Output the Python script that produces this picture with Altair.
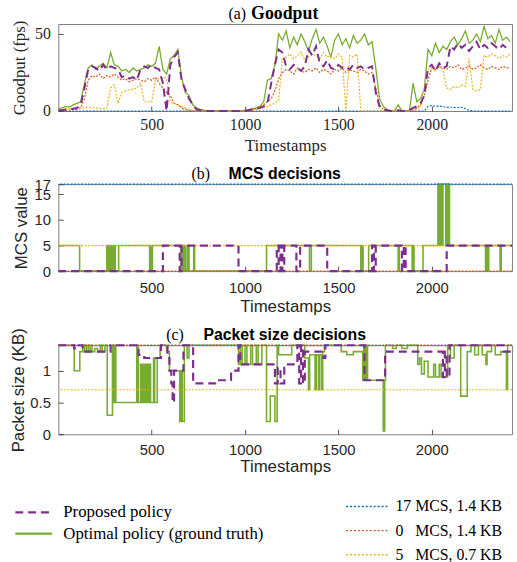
import altair as alt
import pandas as pd

SERIF = "Liberation Serif"
SANS = "Liberation Sans"
BLUE, RED, YEL, PUR, GRN = "#0072BD", "#D95319", "#EDB120", "#7E2F8E", "#77AC30"
AX = "#262626"

POL = ["Proposed policy", "Optimal policy (ground truth)"]
BASE = ["17 MCS, 1.4 KB", "0\u2007 MCS, 1.4 KB", "5\u2007 MCS, 0.7 KB"]

# ---- (a) Goodput, sampled every 20 timestamps ----
T = list(range(0, 2421, 20))
good_opt = [1.5, 2, 3, 2.5, 4, 5, 6,
            18,
            28, 30, 27, 29, 31, 28, 38, 30, 29,
            26, 27, 25, 28, 26, 27, 28,
            30, 29, 31,
            42,
            27, 24,
            34, 36, 40,
            22, 12, 10, 4, 2, 1, 0.5,
            0, 0, 0, 0, 0, 0, 0, 0, 0, 0,
            0.5, 1, 1.5, 2, 3, 6, 20, 21, 30, 50,
            46, 52, 41, 48, 43, 50, 45, 39, 47, 53, 44, 48, 42, 35, 46, 50, 43, 47, 41, 49, 44, 46, 50, 43, 45,
            28, 8, 3, 1,
            0, 0, 4, 0, 0, 0,
            18, 6, 8, 14, 40,
            36, 44, 38, 42, 40,
            45, 48, 43, 47, 52, 44, 46, 50, 45, 55, 47, 49, 44, 53, 46, 48, 45]
good_prop = [0.5, 0.5, 1, 1, 1.5, 2, 4,
             15,
             27, 29, 28, 26, 30, 27, 29, 28, 27,
             22, 23, 21, 22, 20, 27, 29,
             28, 30, 28,
             27,
             18, 0,
             30, 35, 38,
             20, 14, 8, 4, 1, 0.5, 0,
             0, 0, 0, 0, 0, 0, 0, 0, 0, 0,
             0, 0.5, 1, 1.5, 2, 3, 5, 18, 30, 40,
             38, 29, 27, 30, 28, 26, 29, 40, 36, 42, 31, 29, 33, 28, 27, 30, 28, 29, 27, 30, 28, 29, 27, 28, 29,
             12, 3, 1, 0.5,
             0, 0, 0.5, 0, 0, 0.5,
             2, 3, 5, 10, 28,
             30, 26, 31, 28, 29,
             42, 40, 44, 41, 43, 39, 42, 45, 40, 43, 41, 44, 42, 40, 43, 41, 42]
good_mcs0 = [0, 0, 0.5, 0.5, 1, 1, 2,
             8,
             20, 23, 22, 24, 21, 23, 22, 24, 22,
             20, 21, 19, 20, 21, 20, 19,
             21, 20, 22,
             18,
             15, 12,
             10, 5, 4,
             2, 1, 0.5, 0, 0, 0, 0,
             0, 0, 0, 0, 0, 0, 0, 0, 0, 0,
             0, 0.5, 1, 1.5, 2.5, 4, 6, 8, 13, 21,
             25, 27, 26, 24, 28, 26, 25, 27, 26, 28, 25, 27, 26, 24, 27, 26, 28, 25, 27, 26, 25, 27, 26, 24, 25,
             15, 4, 1, 0,
             0, 0, 0, 0, 0, 0,
             0.5, 2, 4, 10, 20,
             28, 27, 29, 28, 27, 29, 28, 30, 27, 28, 29, 27, 28, 30, 28, 27, 29, 28, 27, 29, 28, 28]
good_mcs5 = [0.5, 1, 1.5, 1.5, 1.5, 2, 2,
             2, 2.5, 2, 2, 1.5, 1.5, 2,
             15, 17, 5,
             12, 13, 14, 14, 15, 18, 6,
             6, 6, 20,
             21, 22, 21,
             6, 5, 4, 3, 2, 1, 0.5, 0, 0, 0,
             0, 0, 0, 0, 0, 0, 0, 0, 0, 0,
             0, 0.5, 0.5, 1, 1.5, 2, 3, 4, 5, 7,
             34, 35, 37, 34, 36, 38, 33, 35, 37, 36, 34, 38, 35, 36, 34, 37, 35,
             0,
             36, 35, 37,
             0, 0, 0, 0, 0, 0, 0, 0,
             0, 0, 0, 0, 0, 0,
             0.5, 1, 3, 15, 27,
             28, 26, 29, 27,
             15,
             14, 16, 15, 17, 16, 34,
             14, 13, 14,
             36, 35, 37, 36, 34, 36, 35, 37]
good_mcs17 = [0] * 99 + [3, 3.5, 3, 3.2, 2.8, 2.5, 2.6, 2.3, 2.2, 2.4, 1.5, 0.3] + [0] * 11

for arr in (good_opt, good_prop, good_mcs0, good_mcs5, good_mcs17):
    assert len(arr) == len(T), len(arr)

# ---- (b) MCS decisions (change points) ----
mcs_opt_t = [0, 114, 260, 266, 272, 280, 286, 292, 298, 305, 323, 489, 494, 499, 504,
             657, 662, 668, 675, 682, 692, 700, 725, 730, 1115, 1345, 1355,
             1620, 1626, 1632, 1662, 1820, 1826, 1895, 1900, 1905, 1953,
             2033, 2040, 2047, 2053, 2060, 2075, 2080, 2085, 2090, 2095,
             2288, 2293, 2298, 2305, 2366, 2372, 2430]
mcs_opt_v = [5, 0, 5, 0, 5, 0, 5, 0, 5, 0, 5, 0, 5, 0, 5,
             0, 5, 0, 5, 0, 5, 0, 5, 0, 5, 0, 5,
             0, 5, 0, 5, 0, 5, 0, 5, 0, 5,
             17, 5, 17, 5, 17, 5, 17, 5, 17, 5,
             0, 5, 0, 5, 0, 5, 5]
mcs_prop_t = [0, 560, 650, 660, 965, 1170, 1180, 1190, 1200, 1210, 1275, 1295, 1440,
              1680, 1690, 1700, 1840, 1850, 1860, 2080, 2430]
mcs_prop_v = [0, 5, 0, 5, 0, 5, 0, 5, 0, 5, 0, 5, 0,
              5, 0, 5, 0, 5, 0, 5, 5]

# ---- (c) Packet size decisions (change points, KB) ----
pk_opt_t = [0, 85, 115, 130, 140, 150, 160, 170, 180, 195, 210, 225, 235, 250, 262, 290, 296, 302, 308,
            420, 428, 440, 446, 452, 458, 464, 470, 476, 482, 488, 494, 510, 516, 530, 545, 580, 595,
            650, 658, 664, 675, 690, 700, 965, 975, 985, 1000, 1010, 1030, 1040, 1060, 1070, 1090,
            1115, 1135, 1160, 1172, 1180, 1250, 1320, 1340, 1346, 1375, 1381, 1393, 1399, 1410, 1416,
            1425, 1515, 1545, 1580, 1630, 1636, 1642, 1650, 1656, 1740, 1748, 1752, 1790, 1810, 1840,
            1870, 1925, 1935, 1945, 1960, 1980, 2010, 2020, 2040, 2050, 2085, 2100, 2120, 2155, 2190,
            2210, 2230, 2250, 2270, 2290, 2296, 2320, 2340, 2370, 2400, 2406, 2430]
pk_opt_v = [1.4, 1.0, 1.3, 1.4, 1.3, 1.4, 1.3, 1.4, 1.3, 1.35, 1.3, 1.4, 1.3, 1.4, 0.3, 1.4, 0.5, 1.4, 0.5,
            1.4, 0.5, 1.1, 0.5, 1.1, 0.5, 1.1, 0.5, 1.1, 0.5, 1.1, 0.5, 1.2, 0.5, 1.2, 1.4, 1.3, 1.0,
            0.2, 1.0, 0.2, 1.4, 1.2, 1.4, 1.1, 1.4, 1.1, 1.4, 1.1, 1.4, 1.1, 1.4, 1.1, 1.4,
            0.2, 0.6, 0.2, 1.4, 1.25, 1.4, 1.2, 0.7, 1.25, 0.7, 1.25, 0.7, 1.25, 0.7, 1.3,
            1.4, 1.3, 1.25, 1.3, 0.85, 1.4, 0.85, 1.4, 0.85, 0.05, 0.85, 1.4, 1.35, 1.4, 1.35,
            1.4, 1.1, 1.2, 0.95, 1.15, 0.9, 1.1, 0.9, 1.1, 0.9, 1.4, 1.2, 1.4, 0.6, 1.3,
            1.4, 1.25, 1.4, 1.25, 1.1, 1.3, 1.4, 1.25, 1.3, 0.7, 1.4, 1.4]
pk_prop_t = [0, 85, 100, 130, 280, 430, 460, 550, 585, 595, 605, 612, 620, 670, 722, 840, 925, 965, 975,
             1160, 1175, 1190, 1210, 1280, 1290, 1300, 1310, 1320, 1420, 1430, 1640, 1750, 2060, 2070,
             2080, 2095, 2385, 2430]
pk_prop_v = [1.4, 1.35, 1.4, 1.3, 1.4, 1.25, 1.2, 1.4, 1.2, 1.0, 0.8, 0.5, 1.0, 1.4, 0.8, 0.85, 1.0, 1.4, 1.1,
             0.8, 1.05, 0.8, 1.1, 1.4, 0.8, 1.4, 0.8, 1.3, 1.2, 1.4, 0.85, 1.3, 0.9, 1.3,
             0.9, 1.4, 1.3, 1.3]
assert len(mcs_opt_t) == len(mcs_opt_v) and len(mcs_prop_t) == len(mcs_prop_v)
assert len(pk_opt_t) == len(pk_opt_v) and len(pk_prop_t) == len(pk_prop_v)

base_mcs = [17, 0, 5]
base_kb = [1.4, 1.4, 0.7]

# ---- tables ----
def long(ts, vals, name, key):
    return pd.DataFrame({"t": ts, "v": vals, key: name})

ga_opt = long(T, good_opt, POL[1], "policy")
ga_prop = long(T, good_prop, POL[0], "policy")
ga_base = pd.concat([long(T, good_mcs17, BASE[0], "baseline"),
                     long(T, good_mcs0, BASE[1], "baseline"),
                     long(T, good_mcs5, BASE[2], "baseline")])
mb_opt = long(mcs_opt_t, mcs_opt_v, POL[1], "policy")
mb_prop = long(mcs_prop_t, mcs_prop_v, POL[0], "policy")
pc_opt = long(pk_opt_t, pk_opt_v, POL[1], "policy")
pc_prop = long(pk_prop_t, pk_prop_v, POL[0], "policy")
bl = pd.DataFrame({"baseline": BASE, "mcs": base_mcs, "kb": base_kb})

W = 459
xscale = alt.Scale(domain=[0, 2430], nice=False, zero=False)


def xaxis(font, lsize, tsize, lpad, tpad):
    return alt.Axis(values=[500, 1000, 1500, 2000], format="d", title="Timestamps", grid=False,
                    domain=False, offset=-5, tickSize=5, tickColor=AX, tickWidth=0.8,
                    labelFont=font, labelFontSize=lsize, labelColor=AX, labelPadding=lpad,
                    labelOverlap=False, labelFlush=False,
                    titleFont=font, titleFontSize=tsize, titleFontWeight="normal", titleColor=AX,
                    titlePadding=tpad)


def yaxis(title, vals, font, lsize, tsize, tpad):
    return alt.Axis(values=vals, labelExpr="'' + datum.value", title=title, grid=False, domain=False,
                    offset=-5, tickSize=5, tickColor=AX, tickWidth=0.8, labelFont=font,
                    labelFontSize=lsize, labelColor=AX, labelPadding=8, labelOverlap=False,
                    labelFlush=False, labelBound=False,
                    titleFont=font, titleFontSize=tsize, titleFontWeight="normal", titleColor=AX,
                    titlePadding=tpad)


pol_leg = alt.Legend(orient="none", legendX=-45, legendY=161, title=None, symbolType="stroke",
                     symbolSize=1369, symbolStrokeWidth=2.2, clipHeight=16, rowPadding=4.5,
                     labelFont=SERIF, labelFontSize=17, labelColor="#000000", labelOffset=10,
                     labelLimit=400, padding=0)
base_leg = alt.Legend(orient="none", legendX=290, legendY=157, title=None, symbolType="stroke",
                      symbolSize=1764, symbolStrokeWidth=1.5, symbolDash=[2, 2], clipHeight=12,
                      rowPadding=8.5, labelFont=SERIF, labelFontSize=16, labelColor="#000000",
                      labelOffset=7, labelLimit=400, padding=0)


def pcolor(legend=None):
    return alt.Color("policy:N", scale=alt.Scale(domain=POL, range=[PUR, GRN]), legend=legend)


def pdash(legend=None):
    return alt.StrokeDash("policy:N", scale=alt.Scale(domain=POL, range=[[8, 5], [1, 0]]), legend=legend)


def bcolor(legend=None):
    return alt.Color("baseline:N", scale=alt.Scale(domain=BASE, range=[BLUE, RED, YEL]), legend=legend)


def titles(tag, tag_x, name, name_font, size):
    t1 = alt.Chart(alt.Data(values=[{"lab": tag}])).mark_text(
        font=SERIF, fontSize=16, baseline="alphabetic", align="center", color="#000000"
    ).encode(text="lab:N", x=alt.value(tag_x), y=alt.value(-5))
    t2 = alt.Chart(alt.Data(values=[{"lab": name}])).mark_text(
        font=name_font, fontSize=size, fontWeight="bold", baseline="alphabetic", align="center",
        color="#000000"
    ).encode(text="lab:N", x=alt.value(229), y=alt.value(-5))
    return [t1, t2]


# ---- panel (a) ----
ya = alt.Scale(domain=[0, 56.5], nice=False, zero=False)
xa = alt.X("t:Q", scale=xscale, axis=xaxis(SERIF, 16, 17, 6, 5))
yax_a = yaxis("Goodput (fps)", [0, 50], SERIF, 16, 17, 6)
a_opt = alt.Chart(ga_opt).mark_line(strokeWidth=1.3).encode(
    x=xa, y=alt.Y("v:Q", scale=ya, axis=yax_a), color=pcolor())
a_base = alt.Chart(ga_base).mark_line(strokeWidth=1.2, strokeDash=[2, 1.5]).encode(
    x=xa, y=alt.Y("v:Q", scale=ya, axis=yax_a), color=bcolor(), detail="baseline:N")
a_prop = alt.Chart(ga_prop).mark_line(strokeWidth=2).encode(
    x=xa, y=alt.Y("v:Q", scale=ya, axis=yax_a), color=pcolor(), strokeDash=pdash())
panel_a = alt.layer(a_opt, a_base, a_prop, *titles("(a)", 181, "Goodput", SERIF, 18)).resolve_scale(
    color="independent", strokeDash="independent").properties(width=W, height=88)

# ---- panel (b) ----
yb = alt.Scale(domain=[0, 17], nice=False, zero=False)
xb = alt.X("t:Q", scale=xscale, axis=xaxis(SANS, 15, 17, 10, 3))
yax_b = yaxis("MCS value", [0, 5, 10, 15, 17], SANS, 15, 17, 3)
b_opt = alt.Chart(mb_opt).mark_line(strokeWidth=1.6, interpolate="step-after").encode(
    x=xb, y=alt.Y("v:Q", scale=yb, axis=yax_b), color=pcolor())
b_base = alt.Chart(bl).mark_rule(strokeWidth=1.2, strokeDash=[2, 1.5]).encode(
    y=alt.Y("mcs:Q", scale=yb, axis=yax_b), color=bcolor())
b_prop = alt.Chart(mb_prop).mark_line(strokeWidth=2.2, interpolate="step-after").encode(
    x=xb, y=alt.Y("v:Q", scale=yb, axis=yax_b), color=pcolor(), strokeDash=pdash())
panel_b = alt.layer(b_opt, b_base, b_prop, *titles("(b)", 144, "MCS decisions", SANS, 16)).resolve_scale(
    color="independent", strokeDash="independent").properties(width=W, height=88)

# ---- panel (c) ----
yc = alt.Scale(domain=[0, 1.4], nice=False, zero=False)
xc = alt.X("t:Q", scale=xscale, axis=xaxis(SANS, 15, 17, 8, 2))
yax_c = yaxis("Packet size (KB)", [0, 0.5, 1], SANS, 15, 17, 2)
c_opt = alt.Chart(pc_opt).mark_line(strokeWidth=1.6, interpolate="step-after").encode(
    x=xc, y=alt.Y("v:Q", scale=yc, axis=yax_c), color=pcolor())
c_base = alt.Chart(bl).mark_rule(strokeWidth=1.2, strokeDash=[2, 1.5]).encode(
    y=alt.Y("kb:Q", scale=yc, axis=yax_c), color=bcolor(base_leg))
c_prop = alt.Chart(pc_prop).mark_line(strokeWidth=2.2, interpolate="step-after").encode(
    x=xc, y=alt.Y("v:Q", scale=yc, axis=yax_c), color=pcolor(pol_leg), strokeDash=pdash(pol_leg))
panel_c = alt.layer(c_opt, c_base, c_prop, *titles("(c)", 118, "Packet size decisions", SANS, 16)).resolve_scale(
    color="independent", strokeDash="independent").properties(width=W, height=90)

chart = alt.vconcat(panel_a, panel_b, panel_c, spacing=11).resolve_scale(
    color="independent", strokeDash="independent"
).properties(
    padding={"left": 9, "top": 1, "right": 0, "bottom": 0}, background="white"
).configure_view(stroke="#808080", strokeWidth=1)

chart.save("out.html", embed_options={"renderer": "svg", "actions": False})
